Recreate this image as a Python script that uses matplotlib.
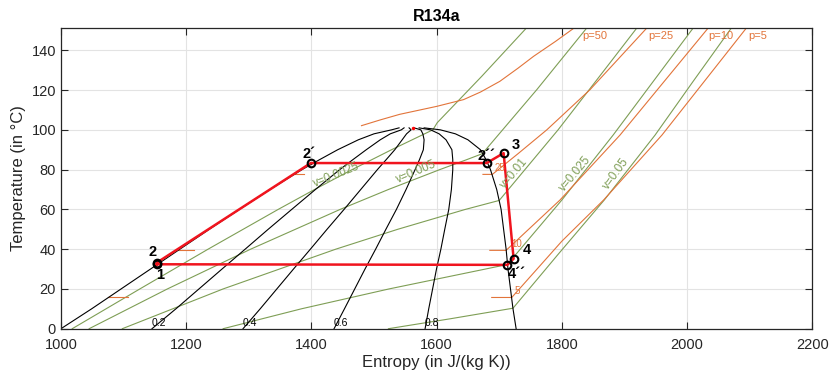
import numpy as np
import matplotlib
matplotlib.use("Agg")
import matplotlib.pyplot as plt

plt.rcParams['font.family'] = ['Liberation Sans', 'DejaVu Sans']

# saturation curves of R134a (T in degC, s in J/(kg K))
T_sat = [0, 10, 20, 30, 40, 50, 60, 70, 80, 85, 90, 95, 98, 100, 101]
s_liq = [1000, 1049, 1096, 1143, 1190, 1237, 1285, 1334, 1385, 1413, 1442, 1475, 1500, 1528, 1540]
s_vap = [1727, 1722, 1718, 1714, 1711, 1707, 1703, 1696, 1686, 1679, 1670, 1650, 1630, 1606, 1580]
qualities = [0.2, 0.4, 0.6, 0.8]
crit_s, crit_T = 1562, 101.06

# isochores (v in m^3/kg)
v_names = ['0.0025', '0.005', '0.01', '0.025', '0.05']
v_s = [
    [1018, 1126, 1235, 1347, 1405, 1465, 1528, 1561, 1594, 1601, 1672, 1744],
    [1045, 1170, 1303, 1446, 1523, 1605, 1648, 1673, 1760, 1840],
    [1098, 1259, 1439, 1538, 1646, 1700, 1794, 1858, 1920],
    [1259, 1384, 1524, 1678, 1713, 1800, 1882, 2010],
    [1523, 1622, 1722, 1793, 1868, 1949, 2010, 2071],
]
v_T = [
    [0, 20, 40, 60, 70, 80, 90, 95, 100, 103.6, 126.9, 151.4],
    [0, 20, 40, 60, 70, 80, 85, 88, 120.2, 151.3],
    [0, 20, 40, 50, 60, 64.5, 100, 126, 151.3],
    [0, 10, 20, 30, 32.3, 64.7, 97.4, 151.3],
    [0, 5, 10.3, 37, 64.8, 97.4, 124.5, 151.3],
]
v_lab_s = [1440, 1568, 1724, 1822, 1886]
v_lab_T = [77.5, 79, 78, 78, 78]
v_lab_rot = [22, 23, 50, 50, 54]

# isobars (p in bar)
p_names = ['50', '25', '10', '5']
p_s = [
    [1480, 1510, 1541, 1600, 1643, 1670, 1701, 1730, 1755, 1790, 1820],
    [1674, 1689, 1730, 1776, 1845, 1936],
    [1685, 1711, 1797, 1893, 2034],
    [1688, 1720, 1800, 1867, 1960, 2095],
]
p_T = [
    [102.1, 105, 107.8, 111.8, 115.2, 119, 124.4, 131, 137, 144.5, 151.3],
    [77.6, 77.6, 88, 100, 120.2, 151.3],
    [39.4, 39.4, 64.7, 97.4, 151.3],
    [15.7, 15.7, 44, 64.8, 97.4, 151.3],
]
p_liq_seg = [None, [1372, 1388], [1187, 1213], [1075.6, 1106.5]]
p_top_s = [1832, 1938, 2034, 2098]
p_small = ['', '25', '10', '5']
p_small_s = [0, 1693, 1719, 1725]
p_small_T = [0, 81, 42.5, 19]

# cycle 1-2-2'-2''-3-4-4''-1
cyc_s = [1153, 1153, 1399, 1680, 1707, 1723, 1713, 1153]
cyc_T = [32.4, 33.2, 83.3, 83.3, 88.3, 35.2, 32.1, 32.4]
pt_names = ['1', '2', '2´', '2´´', '3', '4', '4´´']
pt_lab_s = [1158, 1147, 1396, 1680, 1727, 1744, 1728]
pt_lab_T = [27, 38.5, 88, 87, 92.5, 39.6, 27.5]

green = '#7E9E55'
orange = '#E2743A'

fig = plt.figure(figsize=(8.33, 3.8), dpi=100)
ax = fig.add_axes([0.0732, 0.135, 0.9019, 0.7905])

for s, T in zip(v_s, v_T):
    ax.plot(s, T, color=green, lw=0.8)
for name, x, y, r in zip(v_names, v_lab_s, v_lab_T, v_lab_rot):
    ax.text(x, y, 'v=' + name, color=green, fontsize=8.5, rotation=r,
            ha='center', va='center', rotation_mode='anchor')

for i in range(len(p_names)):
    ax.plot(p_s[i], p_T[i], color=orange, lw=0.8)
    if p_liq_seg[i] is not None:
        ax.plot(p_liq_seg[i], [p_T[i][0]] * 2, color=orange, lw=0.8)
        ax.text(p_small_s[i], p_small_T[i], p_small[i], color=orange, fontsize=7,
                ha='left', va='center')
    ax.text(p_top_s[i], 147, 'p=' + p_names[i], color=orange, fontsize=8,
            ha='left', va='center')

sl = np.array(s_liq)
sv = np.array(s_vap)
ax.plot(sl, T_sat, color='black', lw=0.8)
ax.plot(sv, T_sat, color='black', lw=0.8)
for q in qualities:
    sq = sl + q * (sv - sl)
    ax.plot(sq, T_sat, color='black', lw=0.8)
    ax.text(sq[0], 2.8, str(q), fontsize=7.5, ha='left', va='center')
ax.plot(crit_s, crit_T, 'o', color='red', ms=2.5, mec='none')

ax.plot(cyc_s, cyc_T, color='#F0141E', lw=1.8)
ax.plot(cyc_s[:-1], cyc_T[:-1], 'o', ms=5.5, mfc='none', mec='black', mew=1.5)
for name, x, y in zip(pt_names, pt_lab_s, pt_lab_T):
    ax.text(x, y, name, fontsize=10.5, fontweight='bold', ha='center', va='center')

ax.set_xlim(1000, 2200)
ax.set_ylim(0, 151.06)
ax.set_xticks(np.arange(1000, 2201, 200))
ax.set_yticks(np.arange(0, 141, 20))
ax.grid(True, color='#E3E3E3', lw=0.8)
ax.set_axisbelow(True)
ax.tick_params(direction='in', length=5, top=True, right=True, labelsize=10.5,
               colors='#262626')
ax.tick_params(axis='x', pad=7)
for sp in ax.spines.values():
    sp.set_color('#262626')
    sp.set_linewidth(0.9)
ax.set_xlabel('Entropy (in J/(kg K))', fontsize=12, color='#262626', labelpad=2)
ax.set_ylabel('Temperature (in °C)', fontsize=12, color='#262626')
ax.set_title('R134a', fontsize=11.5, fontweight='bold', pad=5)

fig.savefig('out.png', dpi=100)
